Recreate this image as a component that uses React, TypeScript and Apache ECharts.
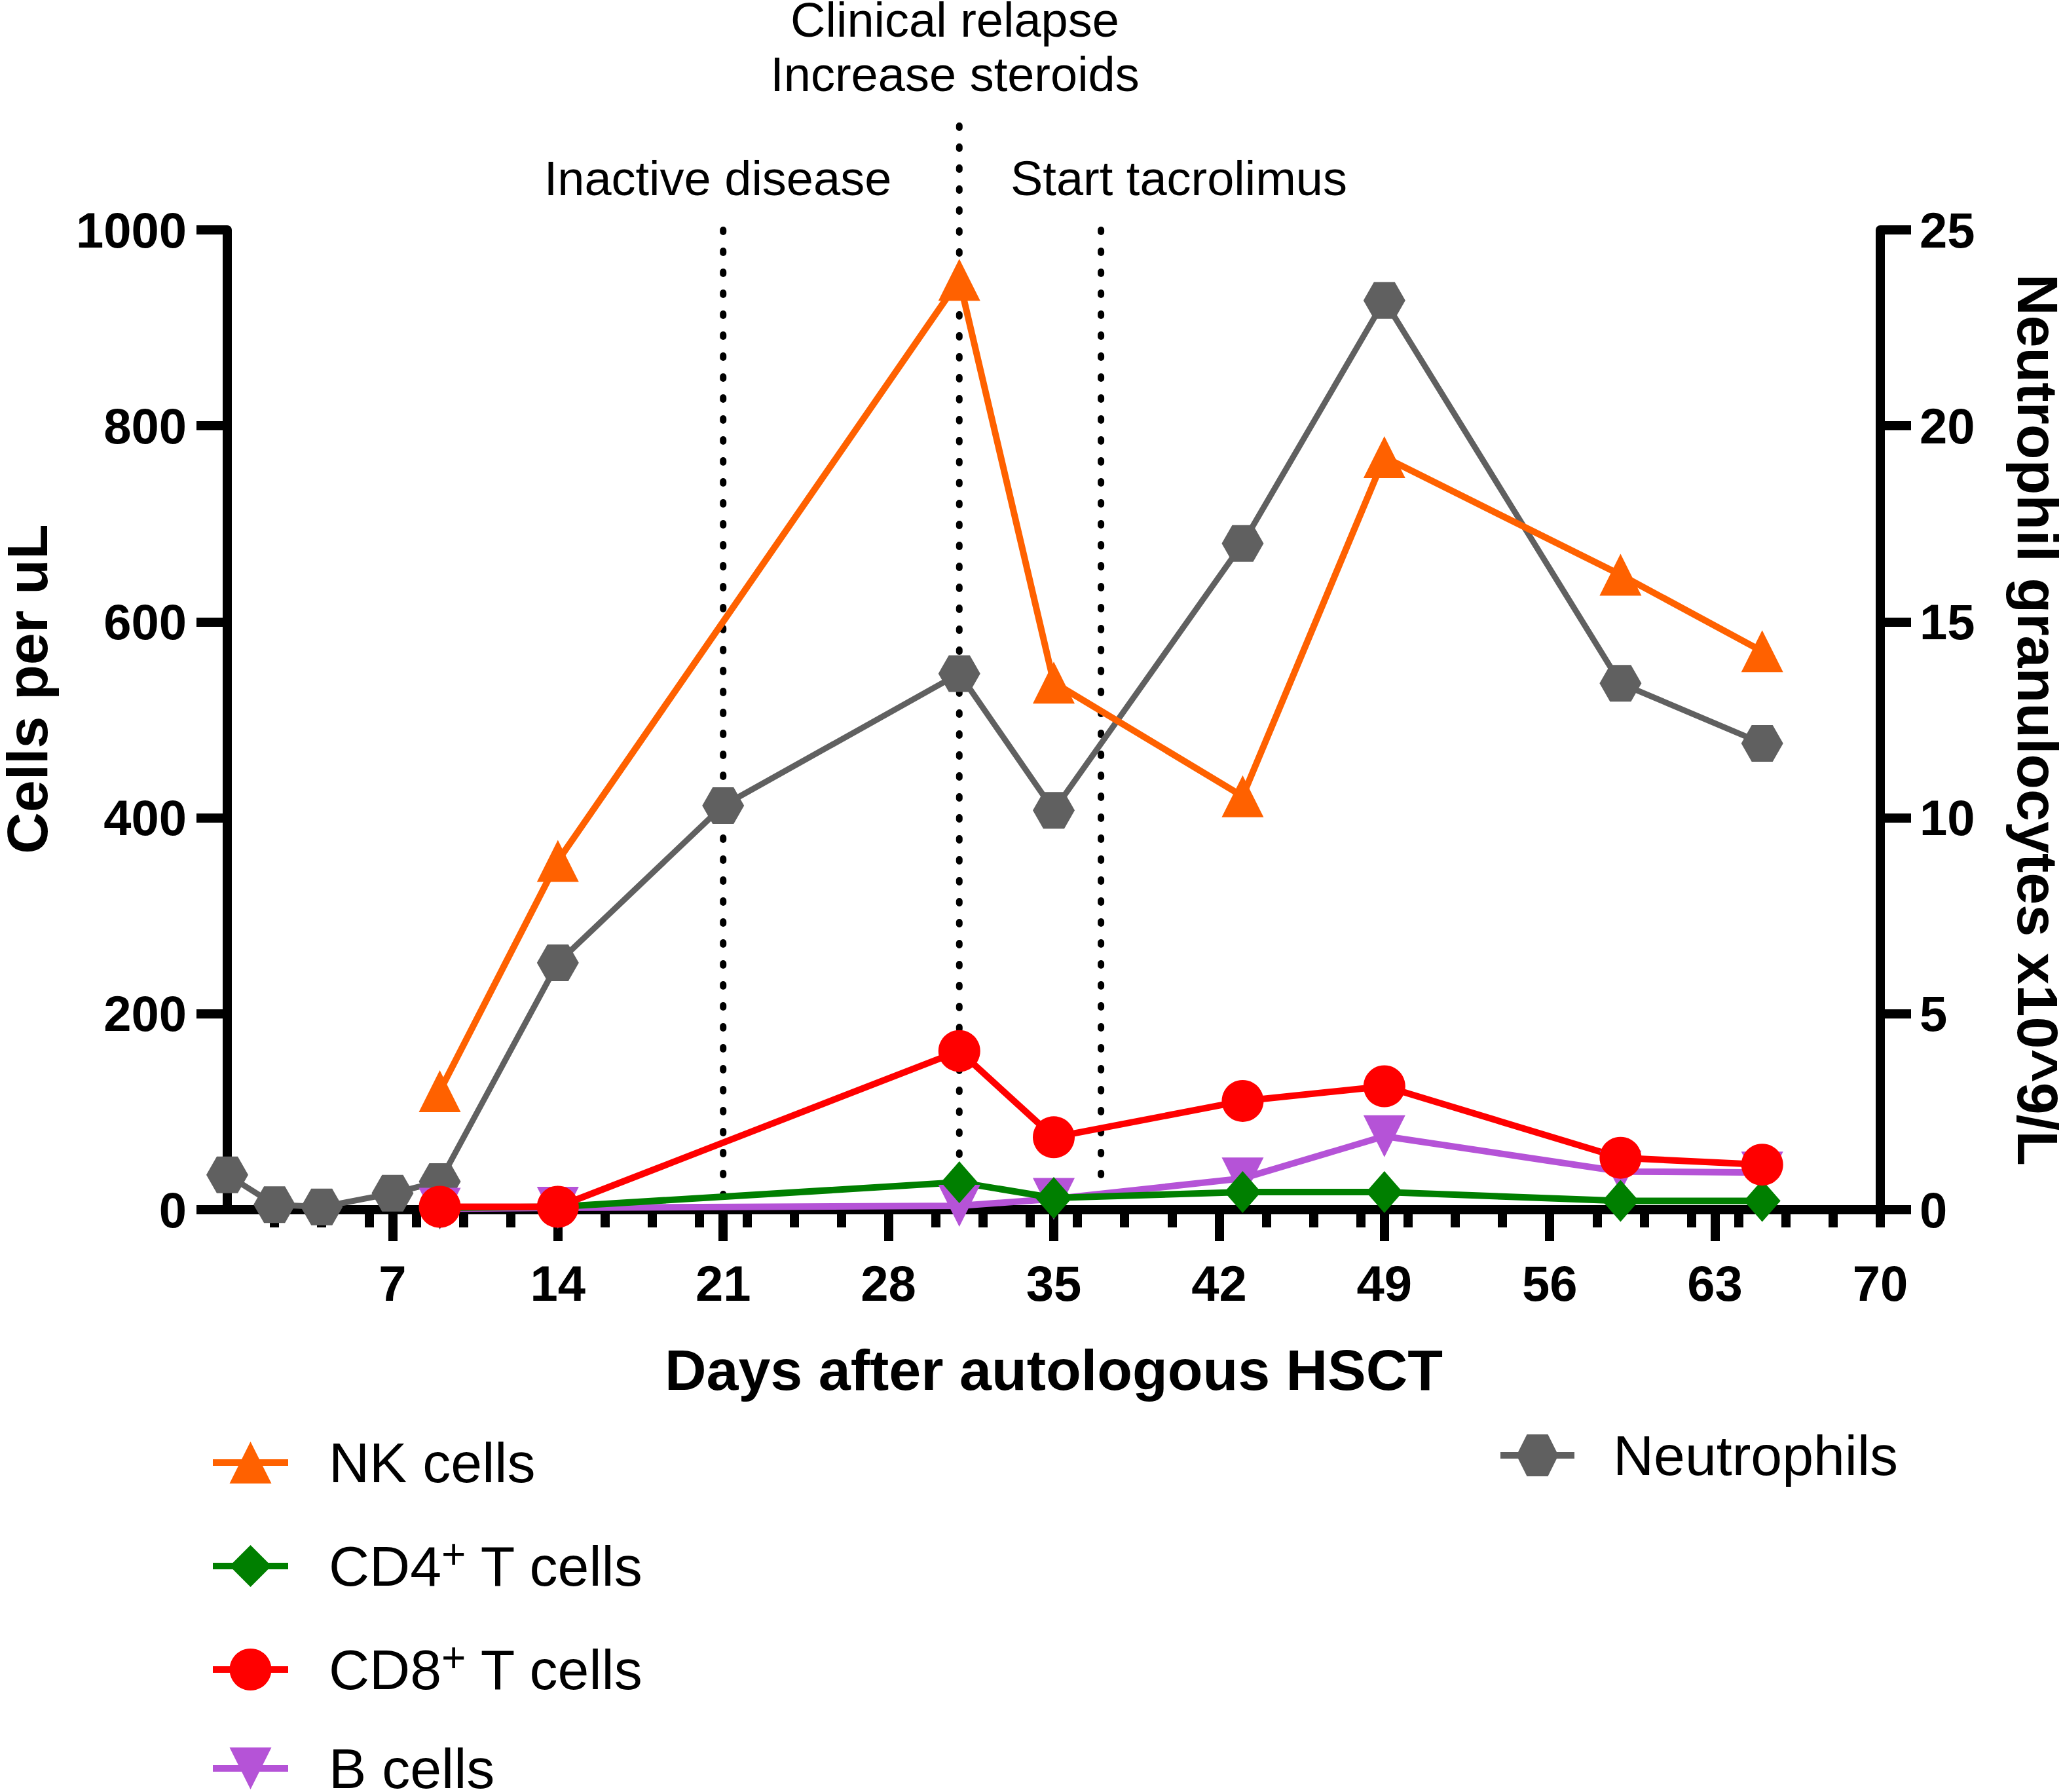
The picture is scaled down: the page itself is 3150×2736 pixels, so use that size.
import React, { useEffect, useRef } from "react";
import * as echarts from "echarts";

// ---- data ----
const LYMPH_DAYS = [9, 14, 31, 35, 43, 49, 59, 65];
const NK_CELLS = [121, 356, 949, 538, 422, 768, 648, 570];
const CD4_T_CELLS = [2, 3, 28, 12, 18, 18, 9, 9];
const CD8_T_CELLS = [3, 3, 162, 74, 111, 126, 53, 46];
const B_CELLS = [1, 2, 4, 11, 32, 75, 39, 38];

const NEUT_DAYS = [0, 2, 4, 7, 9, 14, 21, 31, 35, 43, 49, 59, 65];
const NEUTROPHILS = [0.89, 0.13, 0.07, 0.42, 0.72, 6.3, 10.31, 13.68, 10.19, 17.0, 23.2, 13.43, 11.9];

const EVENT_DAYS = [21, 37];
const RELAPSE_DAY = 31;

const X_LABELS = [7, 14, 21, 28, 35, 42, 49, 56, 63, 70];
const X_MAJOR_TICKS = [7, 14, 21, 28, 35, 42, 49, 56, 63];
const X_MINOR_TICKS = [2, 4, 6, 8, 10, 12, 14, 16, 18, 20, 22, 24, 26, 28, 30, 32, 34, 36, 38, 40, 42, 44, 46, 48, 50, 52, 54, 56, 58, 60, 62, 64, 66, 68, 70];

const ANNOTATIONS = [
  { text: "Clinical relapse", x: 1458, y: 30 },
  { text: "Increase steroids", x: 1458, y: 113 },
  { text: "Inactive disease", x: 1096, y: 272 },
  { text: "Start tacrolimus", x: 1800, y: 272 },
];

const FONT = "'Liberation Sans', Arial, Helvetica, sans-serif";
const HEX = "path://M0,50 L25,0 L75,0 L100,50 L75,100 L25,100 Z";

const C_NK = "#FF6100";
const C_CD4 = "#007F00";
const C_CD8 = "#FF0000";
const C_B = "#B553D7";
const C_NEUT = "#606060";

const zip = (xs: number[], ys: number[]) => xs.map((x, i) => [x, ys[i]]);

const GRID_POS = { left: 347, top: 351, width: 2524, height: 1496 };

const axisLineStyle = { color: "#000", width: 14 };
const tickLabel = { color: "#000", fontSize: 76, fontWeight: "bold" as const, fontFamily: FONT };
const axisName = { color: "#000", fontSize: 88, fontWeight: "bold" as const, fontFamily: FONT };

const legendRich = {
  n: { fontSize: 86, lineHeight: 100, fontFamily: FONT, color: "#000" },
  s: { fontSize: 64, lineHeight: 28, verticalAlign: "top" as const, fontFamily: FONT, color: "#000" },
};
const legendFormatter = (name: string) => {
  const m = name.match(/^(CD\d)\+(.*)$/);
  if (m) return `{n|${m[1]}}{s|+}{n|${m[2]}}`;
  return `{n|${name}}`;
};

const dotted = {
  color: "#000",
  width: 10,
  type: [3, 29] as number[],
  cap: "round" as const,
};

export default function App() {
  const ref = useRef<HTMLDivElement>(null);
  useEffect(() => {
    if (!ref.current) return;
    const chart = echarts.init(ref.current, null, { renderer: "svg" });
    const option: any = {
      animation: false,
      backgroundColor: "#fff",
      grid: [
        { ...GRID_POS, containLabel: false, outerBoundsMode: "none" },
        { ...GRID_POS, containLabel: false, outerBoundsMode: "none" },
        { left: 347, top: 192, width: 2524, height: 1655, containLabel: false, outerBoundsMode: "none" },
      ],
      xAxis: [
        {
          gridIndex: 0,
          type: "value",
          min: 0,
          max: 70,
          position: "bottom",
          axisLine: { show: true, onZero: false, lineStyle: axisLineStyle },
          axisTick: { show: true, length: 48, lineStyle: { color: "#000", width: 14 }, customValues: X_MAJOR_TICKS },
          axisLabel: { ...tickLabel, margin: 74, customValues: X_LABELS, formatter: (v: number) => String(v) },
          splitLine: { show: false },
          name: "Days after autologous HSCT",
          nameLocation: "middle",
          nameGap: 200,
          nameMoveOverlap: false,
          nameTextStyle: axisName,
        },
        {
          gridIndex: 1,
          type: "value",
          min: 0,
          max: 70,
          position: "bottom",
          axisLine: { show: false, onZero: false },
          axisTick: { show: true, length: 27, lineStyle: { color: "#000", width: 14 }, customValues: X_MINOR_TICKS },
          axisLabel: { show: false },
          splitLine: { show: false },
        },
        { gridIndex: 2, type: "value", min: 0, max: 70, show: false },
      ],
      yAxis: [
        {
          gridIndex: 0,
          type: "value",
          min: 0,
          max: 1000,
          interval: 200,
          position: "left",
          axisLine: { show: true, onZero: false, lineStyle: axisLineStyle },
          axisTick: { show: true, length: 47, lineStyle: { color: "#000", width: 14 } },
          axisLabel: { ...tickLabel, margin: 62, formatter: (v: number) => String(v) },
          splitLine: { show: false },
          name: "Cells per uL",
          nameLocation: "middle",
          nameGap: 262,
          nameMoveOverlap: false,
          nameTextStyle: { ...axisName, padding: [0, 0, 0, 94] },
        },
        {
          gridIndex: 0,
          type: "value",
          min: 0,
          max: 25,
          interval: 5,
          position: "right",
          axisLine: { show: true, onZero: false, lineStyle: axisLineStyle },
          axisTick: { show: true, length: 47, lineStyle: { color: "#000", width: 14 } },
          axisLabel: { ...tickLabel, margin: 60, formatter: (v: number) => String(v) },
          splitLine: { show: false },
          name: "Neutrophil granulocytes x10^9/L",
          nameLocation: "middle",
          nameRotate: -90,
          nameGap: 196,
          nameMoveOverlap: false,
          nameTextStyle: axisName,
        },
        { gridIndex: 1, type: "value", min: 0, max: 1, show: false },
        { gridIndex: 2, type: "value", min: 0, max: 1, show: false },
      ],
      legend: [
        {
          orient: "vertical",
          left: 315,
          top: 2185,
          height: 700,
          itemWidth: 115,
          itemHeight: 80,
          itemGap: 65,
          selectedMode: false,
          data: ["NK cells", "CD4+ T cells", "CD8+ T cells", "B cells"],
          formatter: legendFormatter,
          lineStyle: { width: 10 },
          textStyle: { color: "#000", fontSize: 86, fontFamily: FONT, padding: [0, 0, 0, 57], rich: legendRich },
        },
        {
          orient: "vertical",
          left: 2281,
          top: 2174,
          itemWidth: 113,
          itemHeight: 80,
          selectedMode: false,
          data: ["Neutrophils"],
          formatter: legendFormatter,
          lineStyle: { width: 10 },
          textStyle: { color: "#000", fontSize: 86, fontFamily: FONT, padding: [0, 0, 0, 54], rich: legendRich },
        },
      ],
      graphic: ANNOTATIONS.map((a) => ({
        type: "text",
        x: a.x,
        y: a.y,
        silent: true,
        style: {
          text: a.text,
          align: "center",
          verticalAlign: "middle",
          fontSize: 74,
          fontFamily: FONT,
          fill: "#000",
        },
      })),
      series: [
        ...EVENT_DAYS.map((d) => ({
          name: "event-" + d,
          type: "line",
          xAxisIndex: 0,
          yAxisIndex: 0,
          data: [
            [d, 1000],
            [d, 0],
          ],
          symbol: "none",
          silent: true,
          lineStyle: dotted,
          z: 1,
        })),
        {
          name: "relapse",
          type: "line",
          xAxisIndex: 2,
          yAxisIndex: 3,
          data: [
            [RELAPSE_DAY, 1],
            [RELAPSE_DAY, 0],
          ],
          symbol: "none",
          silent: true,
          lineStyle: dotted,
          z: 1,
        },
        {
          name: "Neutrophils",
          type: "line",
          xAxisIndex: 0,
          yAxisIndex: 1,
          data: zip(NEUT_DAYS, NEUTROPHILS),
          symbol: HEX,
          symbolSize: [64, 56],
          clip: false,
          color: C_NEUT,
          itemStyle: { color: C_NEUT, borderWidth: 0 },
          lineStyle: { color: C_NEUT, width: 9 },
          z: 2,
        },
        {
          name: "NK cells",
          type: "line",
          xAxisIndex: 0,
          yAxisIndex: 0,
          data: zip(LYMPH_DAYS, NK_CELLS),
          symbol: "triangle",
          symbolSize: 64,
          clip: false,
          color: C_NK,
          itemStyle: { color: C_NK, borderWidth: 0 },
          lineStyle: { color: C_NK, width: 10 },
          z: 2,
        },
        {
          name: "B cells",
          type: "line",
          xAxisIndex: 0,
          yAxisIndex: 0,
          data: zip(LYMPH_DAYS, B_CELLS),
          symbol: "triangle",
          symbolRotate: 180,
          symbolSize: 64,
          clip: false,
          color: C_B,
          itemStyle: { color: C_B, borderWidth: 0 },
          lineStyle: { color: C_B, width: 10 },
          z: 2,
        },
        {
          name: "CD4+ T cells",
          type: "line",
          xAxisIndex: 0,
          yAxisIndex: 0,
          data: zip(LYMPH_DAYS, CD4_T_CELLS),
          symbol: "diamond",
          symbolSize: [56, 64],
          clip: false,
          color: C_CD4,
          itemStyle: { color: C_CD4, borderWidth: 0 },
          lineStyle: { color: C_CD4, width: 10 },
          z: 2,
        },
        {
          name: "CD8+ T cells",
          type: "line",
          xAxisIndex: 0,
          yAxisIndex: 0,
          data: zip(LYMPH_DAYS, CD8_T_CELLS),
          symbol: "circle",
          symbolSize: 64,
          clip: false,
          color: C_CD8,
          itemStyle: { color: C_CD8, borderWidth: 0 },
          lineStyle: { color: C_CD8, width: 10 },
          z: 2,
        },
      ],
    };
    chart.setOption(option);
    return () => chart.dispose();
  }, []);
  return (
    <div
      ref={ref}
      style={{ position: "absolute", left: 0, top: 0, width: 3150, height: 2736, background: "#fff" }}
    />
  );
}
